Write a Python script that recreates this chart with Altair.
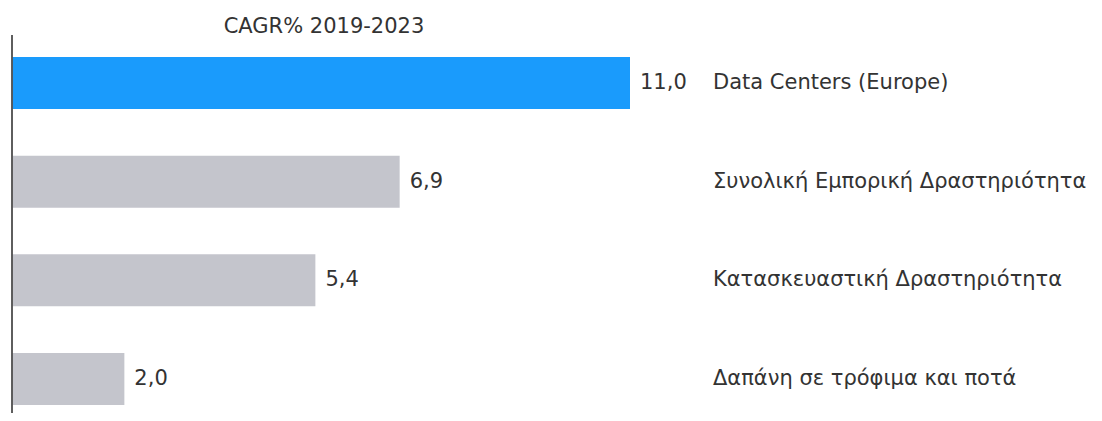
import altair as alt
import pandas as pd

categories = [
    "Data Centers (Europe)",
    "Συνολική Εμπορική Δραστηριότητα",
    "Κατασκευαστική Δραστηριότητα",
    "Δαπάνη σε τρόφιμα και ποτά",
]
values = [11.0, 6.9, 5.4, 2.0]
colors = ["#1a9bfc", "#c4c5cc", "#c4c5cc", "#c4c5cc"]
title_text = "CAGR% 2019-2023"

df = pd.DataFrame({"cat": categories, "value": values, "color": colors})

FONT = "DejaVu Sans"
FS = 21
TXT = "#333333"

y_enc = alt.Y(
    "cat:N",
    sort=categories,
    scale=alt.Scale(range=[25.7, 420.3], paddingInner=0.473, paddingOuter=0.2365),
    axis=None,
)
x_scale = alt.Scale(domain=[0, 11], range=[0, 618])

base = alt.Chart(df)

bars = base.mark_bar().encode(
    x=alt.X("value:Q", scale=x_scale, axis=None),
    y=y_enc,
    color=alt.Color("color:N", scale=None),
)

vals = base.transform_calculate(
    lab="replace(format(datum.value, '.1f'), '.', ',')"
).mark_text(align="left", baseline="middle", dx=10, font=FONT, fontSize=FS, color=TXT).encode(
    x=alt.X("value:Q", scale=x_scale),
    y=y_enc,
    text="lab:N",
)

names = base.mark_text(align="left", baseline="middle", font=FONT, fontSize=FS, color=TXT).encode(
    x=alt.value(701),
    y=y_enc,
    text="cat:N",
)

axis_line = base.mark_rule(color="#555555", strokeWidth=1).encode(
    x=alt.value(0), y=alt.value(27), y2=alt.value(405)
)

title = alt.Chart(pd.DataFrame({"t": [title_text]})).mark_text(
    align="center", baseline="middle", font=FONT, fontSize=FS, color=TXT
).encode(x=alt.value(312), y=alt.value(19), text="t:N")

chart = (
    alt.layer(bars, vals, names, axis_line, title)
    .properties(
        width=1082,
        height=405,
        padding={"left": 4, "top": 0, "right": 0, "bottom": 0},
        autosize=alt.AutoSizeParams(type="none"),
    )
    .configure_view(stroke=None)
)

chart.save("out.html", embed_options={"renderer": "svg", "actions": False})
